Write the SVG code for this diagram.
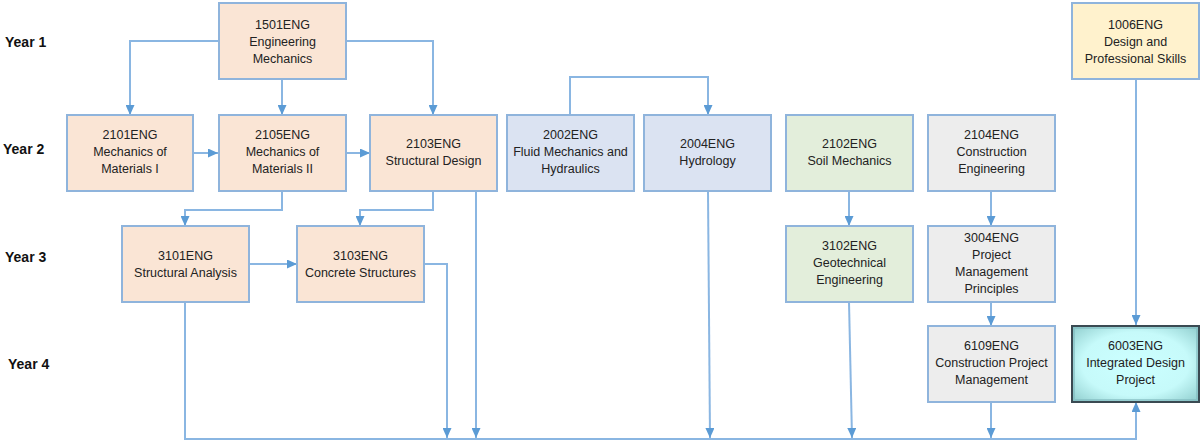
<svg xmlns="http://www.w3.org/2000/svg" width="1201" height="444" viewBox="0 0 1201 444">
<style>
.box{stroke:#8fb4dc;stroke-width:2}
.peach{fill:#fae5d5}
.blue{fill:#dbe3f2}
.green{fill:#e3eedb}
.grey{fill:#ededed}
.yellow{fill:#fff2cd}
text{font-family:"Liberation Sans",Arial,sans-serif;font-size:12.5px;fill:#222;text-anchor:middle}
.yr{font-size:14px;font-weight:bold;text-anchor:start;fill:#111}
.c{fill:none;stroke:#8ab6e2;stroke-width:2}
</style>
<defs>
<marker id="ah" markerWidth="10" markerHeight="9" refX="10" refY="4.5" orient="auto" markerUnits="userSpaceOnUse">
<path d="M0,0 L10,4.5 L0,9 Z" fill="#5b9bd5"/>
</marker>
<radialGradient id="glow" cx="50%" cy="50%" r="70%">
<stop offset="0" stop-color="#ccffff"/>
<stop offset="0.6" stop-color="#c6fafa"/>
<stop offset="1" stop-color="#8fcdcd"/>
</radialGradient>
</defs>
<g id="year-labels">
<text class="yr" x="5" y="47">Year 1</text>
<text class="yr" x="3" y="154">Year 2</text>
<text class="yr" x="5" y="262">Year 3</text>
<text class="yr" x="8" y="369">Year 4</text>
</g>
<g id="connectors">
<path class="c" d="M219,41 H130 V115" marker-end="url(#ah)"/>
<path class="c" d="M282,79 V115" marker-end="url(#ah)"/>
<path class="c" d="M346,41 H433 V115" marker-end="url(#ah)"/>
<path class="c" d="M193,153 H218" marker-end="url(#ah)"/>
<path class="c" d="M345,153 H370" marker-end="url(#ah)"/>
<path class="c" d="M282,191 V210 H185 V226" marker-end="url(#ah)"/>
<path class="c" d="M433,191 V210 H360 V226" marker-end="url(#ah)"/>
<path class="c" d="M476,191 V438" marker-end="url(#ah)"/>
<path class="c" d="M570,115 V77 H708 V115" marker-end="url(#ah)"/>
<path class="c" d="M708,191 L710,438" marker-end="url(#ah)"/>
<path class="c" d="M249,264 H297" marker-end="url(#ah)"/>
<path class="c" d="M424,264 H447 V438" marker-end="url(#ah)"/>
<path class="c" d="M849,191 V226" marker-end="url(#ah)"/>
<path class="c" d="M849,302 L852,438" marker-end="url(#ah)"/>
<path class="c" d="M991,191 V226" marker-end="url(#ah)"/>
<path class="c" d="M991,302 V326" marker-end="url(#ah)"/>
<path class="c" d="M991,402 V438" marker-end="url(#ah)"/>
<path class="c" d="M1136,79 V325" marker-end="url(#ah)"/>
<path class="c" d="M185,302 V439 H1136 V402" marker-end="url(#ah)"/>
</g>
<g id="n1501">
<rect class="box peach" x="219" y="3" width="127" height="76"/>
<text x="282.5" y="29">1501ENG</text>
<text x="282.5" y="46">Engineering</text>
<text x="282.5" y="63">Mechanics</text>
</g>
<g id="n1006">
<rect class="box yellow" x="1072" y="3" width="127" height="76"/>
<text x="1135.5" y="29">1006ENG</text>
<text x="1135.5" y="46">Design and</text>
<text x="1135.5" y="63">Professional Skills</text>
</g>
<g id="n2101">
<rect class="box peach" x="67" y="115" width="126" height="76"/>
<text x="130" y="139">2101ENG</text>
<text x="130" y="156">Mechanics of</text>
<text x="130" y="173">Materials I</text>
</g>
<g id="n2105">
<rect class="box peach" x="219" y="115" width="127" height="76"/>
<text x="282.5" y="139">2105ENG</text>
<text x="282.5" y="156">Mechanics of</text>
<text x="282.5" y="173">Materials II</text>
</g>
<g id="n2103">
<rect class="box peach" x="370" y="115" width="127" height="76"/>
<text x="433.5" y="148">2103ENG</text>
<text x="433.5" y="165">Structural Design</text>
</g>
<g id="n2002">
<rect class="box blue" x="507" y="115" width="127" height="76"/>
<text x="570.5" y="139">2002ENG</text>
<text x="570.5" y="156">Fluid Mechanics and</text>
<text x="570.5" y="173">Hydraulics</text>
</g>
<g id="n2004">
<rect class="box blue" x="644" y="115" width="127" height="76"/>
<text x="707.5" y="148">2004ENG</text>
<text x="707.5" y="165">Hydrology</text>
</g>
<g id="n2102">
<rect class="box green" x="786" y="115" width="127" height="76"/>
<text x="849.5" y="148">2102ENG</text>
<text x="849.5" y="165">Soil Mechanics</text>
</g>
<g id="n2104">
<rect class="box grey" x="928" y="115" width="127" height="76"/>
<text x="991.5" y="139">2104ENG</text>
<text x="991.5" y="156">Construction</text>
<text x="991.5" y="173">Engineering</text>
</g>
<g id="n3101">
<rect class="box peach" x="122" y="226" width="127" height="76"/>
<text x="185.5" y="260">3101ENG</text>
<text x="185.5" y="277">Structural Analysis</text>
</g>
<g id="n3103">
<rect class="box peach" x="297" y="226" width="127" height="76"/>
<text x="360.5" y="260">3103ENG</text>
<text x="360.5" y="277">Concrete Structures</text>
</g>
<g id="n3102">
<rect class="box green" x="786" y="226" width="127" height="76"/>
<text x="849.5" y="250">3102ENG</text>
<text x="849.5" y="267">Geotechnical</text>
<text x="849.5" y="284">Engineering</text>
</g>
<g id="n3004">
<rect class="box grey" x="928" y="226" width="127" height="76"/>
<text x="991.5" y="242">3004ENG</text>
<text x="991.5" y="259">Project</text>
<text x="991.5" y="276">Management</text>
<text x="991.5" y="293">Principles</text>
</g>
<g id="n6109">
<rect class="box grey" x="928" y="326" width="127" height="76"/>
<text x="991.5" y="350">6109ENG</text>
<text x="991.5" y="367">Construction Project</text>
<text x="991.5" y="384">Management</text>
</g>
<g id="n6003">
<rect x="1072" y="326" width="127" height="76" fill="url(#glow)" stroke="#3a4a52" stroke-width="2"/>
<rect x="1074" y="328" width="123" height="72" fill="none" stroke="#7fb8bc" stroke-width="2" opacity="0.6"/>
<text x="1135.5" y="350">6003ENG</text>
<text x="1135.5" y="367">Integrated Design</text>
<text x="1135.5" y="384">Project</text>
</g>
</svg>
